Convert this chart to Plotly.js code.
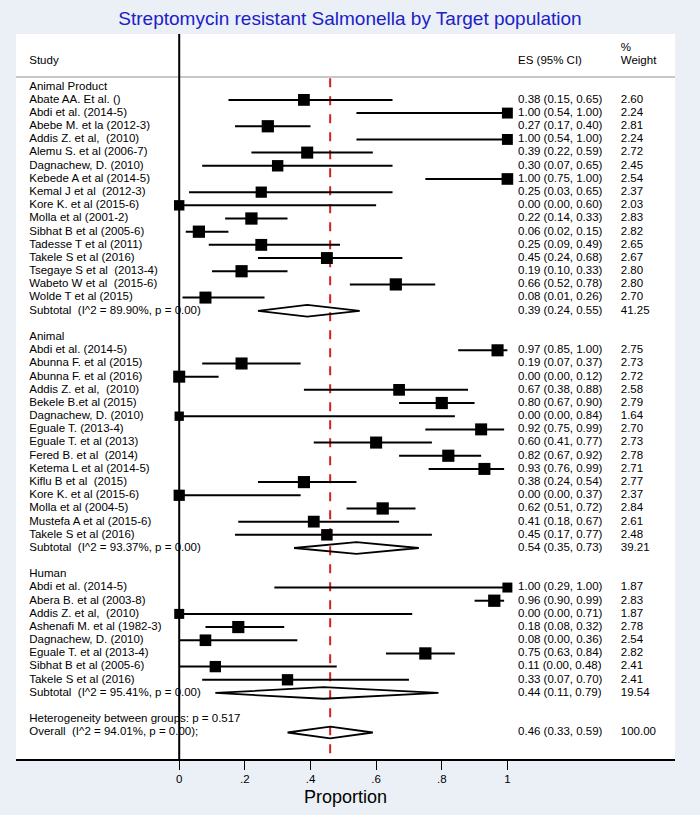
<!DOCTYPE html>
<html>
<head>
<meta charset="utf-8">
<script src="https://cdn.plot.ly/plotly-3.0.1.min.js"></script>
<style>
	html, body { margin: 0; padding: 0; background: #eaf0f5; }
	#forestPlot { width: 700px; height: 815px; }
</style>
</head>
<body>
<div id="forestPlot"></div>
<script>
const groupNames = [ 'Animal Product', 'Animal', 'Human' ];

const studyGroup = [
	0, 0, 0, 0, 0, 0, 0, 0, 0, 0, 0, 0, 0, 0, 0, 0,
	1, 1, 1, 1, 1, 1, 1, 1, 1, 1, 1, 1, 1, 1, 1,
	2, 2, 2, 2, 2, 2, 2, 2
];

const studyNames = [
	'Abate AA. Et al. ()', 'Abdi et al. (2014-5)', 'Abebe M. et la (2012-3)', 'Addis Z. et al,\u00a0 (2010)',
	'Alemu S. et al (2006-7)', 'Dagnachew, D. (2010)', 'Kebede A et al (2014-5)', 'Kemal J et al\u00a0 (2012-3)',
	'Kore K. et al (2015-6)', 'Molla et al (2001-2)', 'Sibhat B et al (2005-6)', 'Tadesse T et al (2011)',
	'Takele S et al (2016)', 'Tsegaye S et al\u00a0 (2013-4)', 'Wabeto W et al\u00a0 (2015-6)', 'Wolde T et al (2015)',
	'Abdi et al. (2014-5)', 'Abunna F. et al (2015)', 'Abunna F. et al (2016)', 'Addis Z. et al,\u00a0 (2010)',
	'Bekele B.et al (2015)', 'Dagnachew, D. (2010)', 'Eguale T. (2013-4)', 'Eguale T. et al (2013)',
	'Fered B. et al\u00a0 (2014)', 'Ketema L et al (2014-5)', 'Kiflu B et al\u00a0 (2015)', 'Kore K. et al (2015-6)',
	'Molla et al (2004-5)', 'Mustefa A et al (2015-6)', 'Takele S et al (2016)',
	'Abdi et al. (2014-5)', 'Abera B. et al (2003-8)', 'Addis Z. et al,\u00a0 (2010)', 'Ashenafi M. et al (1982-3)',
	'Dagnachew, D. (2010)', 'Eguale T. et al (2013-4)', 'Sibhat B et al (2005-6)', 'Takele S et al (2016)'
];

const studyEs = [
	0.38, 1.00, 0.27, 1.00, 0.39, 0.30, 1.00, 0.25, 0.00, 0.22, 0.06, 0.25, 0.45, 0.19, 0.66, 0.08,
	0.97, 0.19, 0.00, 0.67, 0.80, 0.00, 0.92, 0.60, 0.82, 0.93, 0.38, 0.00, 0.62, 0.41, 0.45,
	1.00, 0.96, 0.00, 0.18, 0.08, 0.75, 0.11, 0.33
];

const studyLo = [
	0.15, 0.54, 0.17, 0.54, 0.22, 0.07, 0.75, 0.03, 0.00, 0.14, 0.02, 0.09, 0.24, 0.10, 0.52, 0.01,
	0.85, 0.07, 0.00, 0.38, 0.67, 0.00, 0.75, 0.41, 0.67, 0.76, 0.24, 0.00, 0.51, 0.18, 0.17,
	0.29, 0.90, 0.00, 0.08, 0.00, 0.63, 0.00, 0.07
];

const studyHi = [
	0.65, 1.00, 0.40, 1.00, 0.59, 0.65, 1.00, 0.65, 0.60, 0.33, 0.15, 0.49, 0.68, 0.33, 0.78, 0.26,
	1.00, 0.37, 0.12, 0.88, 0.90, 0.84, 0.99, 0.77, 0.92, 0.99, 0.54, 0.37, 0.72, 0.67, 0.77,
	1.00, 0.99, 0.71, 0.32, 0.36, 0.84, 0.48, 0.70
];

const studyWeight = [
	2.60, 2.24, 2.81, 2.24, 2.72, 2.45, 2.54, 2.37, 2.03, 2.83, 2.82, 2.65, 2.67, 2.80, 2.80, 2.70,
	2.75, 2.73, 2.72, 2.58, 2.79, 1.64, 2.70, 2.73, 2.78, 2.71, 2.77, 2.37, 2.84, 2.61, 2.48,
	1.87, 2.83, 1.87, 2.78, 2.54, 2.82, 2.41, 2.41
];

const subI2 = [ '89.90%', '93.37%', '95.41%' ];
const subP = [ '0.00', '0.00', '0.00' ];
const subEs = [ 0.39, 0.54, 0.44 ];
const subLo = [ 0.24, 0.35, 0.11 ];
const subHi = [ 0.55, 0.73, 0.79 ];
const subWeight = [ 41.25, 39.21, 19.54 ];

const overallEs = 0.46;
const overallLo = 0.33;
const overallHi = 0.59;
const overallWeight = 100.00;
const overallI2 = '94.01%';
const overallP = '0.00';
const betweenGroupsP = '0.517';

const tickVals = [ 0, 0.2, 0.4, 0.6, 0.8, 1 ];
const tickText = [ '0', '.2', '.4', '.6', '.8', '1' ];

// column positions (data units on the x axis)
const labelX = -0.457;
const esX = 1.0325;
const weightX = 1.3455;
const halfDiamond = 0.44;

const fmt = v => v.toFixed( 2 );
const ciText = ( e, l, h ) => fmt( e ) + ' (' + fmt( l ) + ', ' + fmt( h ) + ')';

let labelY = [], labelText = [];
let esY = [], esText = [], weightText = [];
let ciX = [], ciY = [];
let boxX = [], boxY = [], boxSize = [];
let diaX = [], diaY = [];

function addDiamond( e, l, h, r ) {
	diaX.push( l, e, h, e, l, null );
	diaY.push( r, r - halfDiamond, r, r + halfDiamond, r, null );
}

let row = 0;

for ( let g = 0; g < groupNames.length; g++ ) {

	labelY.push( row );
	labelText.push( groupNames[ g ] );
	row++;

	for ( let i = 0; i < studyNames.length; i++ ) {

		if ( studyGroup[ i ] !== g ) continue;

		labelY.push( row );
		labelText.push( studyNames[ i ] );
		esY.push( row );
		esText.push( ciText( studyEs[ i ], studyLo[ i ], studyHi[ i ] ) );
		weightText.push( fmt( studyWeight[ i ] ) );
		ciX.push( studyLo[ i ], studyHi[ i ], null );
		ciY.push( row, row, null );
		boxX.push( studyEs[ i ] );
		boxY.push( row );
		boxSize.push( 7.3 * Math.sqrt( studyWeight[ i ] ) );
		row++;

	}

	labelY.push( row );
	labelText.push( 'Subtotal\u00a0 (I^2 = ' + subI2[ g ] + ', p = ' + subP[ g ] + ')' );
	esY.push( row );
	esText.push( ciText( subEs[ g ], subLo[ g ], subHi[ g ] ) );
	weightText.push( fmt( subWeight[ g ] ) );
	addDiamond( subEs[ g ], subLo[ g ], subHi[ g ], row );
	row += 2;

}

labelY.push( row );
labelText.push( 'Heterogeneity between groups: p = ' + betweenGroupsP );
row++;

labelY.push( row );
labelText.push( 'Overall\u00a0 (I^2 = ' + overallI2 + ', p = ' + overallP + ');' );
esY.push( row );
esText.push( ciText( overallEs, overallLo, overallHi ) );
weightText.push( fmt( overallWeight ) );
addDiamond( overallEs, overallLo, overallHi, row );

const headerRow = -1.97;
const pctRow = -2.96;
const sepRow = -0.74;

const font = 'Liberation Sans, Arial, sans-serif';
const textFont = { family: font, size: 11.5, color: '#000' };

const data = [
	{
		x: ciX, y: ciY, type: 'scatter', mode: 'lines',
		line: { color: '#000', width: 2 }, hoverinfo: 'skip', cliponaxis: false
	},
	{
		x: boxX, y: boxY, type: 'scatter', mode: 'markers',
		marker: { symbol: 'square', color: '#000', opacity: 1, size: boxSize, line: { width: 0 } },
		cliponaxis: false
	},
	{
		x: diaX, y: diaY, type: 'scatter', mode: 'lines',
		line: { color: '#000', width: 1.8 }, hoverinfo: 'skip', cliponaxis: false
	},
	{
		x: labelY.map( () => labelX ), y: labelY, text: labelText,
		type: 'scatter', mode: 'text', textposition: 'middle right',
		textfont: textFont, cliponaxis: false
	},
	{
		x: esY.map( () => esX ), y: esY, text: esText,
		type: 'scatter', mode: 'text', textposition: 'middle right',
		textfont: textFont, cliponaxis: false
	},
	{
		x: esY.map( () => weightX ), y: esY, text: weightText,
		type: 'scatter', mode: 'text', textposition: 'middle right',
		textfont: textFont, cliponaxis: false
	},
	{
		x: [ labelX, esX, weightX, weightX ], y: [ headerRow, headerRow, headerRow, pctRow ],
		text: [ 'Study', 'ES (95% CI)', 'Weight', '%' ],
		type: 'scatter', mode: 'text', textposition: 'middle right',
		textfont: textFont, cliponaxis: false
	}
];

const layout = {
	width: 700,
	height: 815,
	showlegend: false,
	paper_bgcolor: '#eaf0f5',
	plot_bgcolor: '#ffffff',
	margin: { l: 16, r: 25, t: 34, b: 56 },
	title: {
		text: 'Streptomycin resistant Salmonella by Target population',
		font: { family: font, size: 19, color: '#2020c8' },
		x: 0.5, xanchor: 'center', y: 1 - 18 / 815, yanchor: 'middle', yref: 'container'
	},
	xaxis: {
		range: [ -0.4973, 1.5107 ],
		tickvals: tickVals,
		ticktext: tickText,
		ticks: 'outside',
		ticklen: 9,
		tickwidth: 1.2,
		tickcolor: '#000',
		showline: true,
		linecolor: '#000',
		linewidth: 1.5,
		showgrid: false,
		zeroline: false,
		tickfont: { family: font, size: 11.5, color: '#000' },
		title: { text: 'Proportion', font: { family: font, size: 18, color: '#000' }, standoff: 6 },
		fixedrange: true
	},
	yaxis: {
		range: [ 51.01, -4.0 ],
		visible: false,
		showgrid: false,
		zeroline: false,
		fixedrange: true
	},
	shapes: [
		{
			type: 'line', xref: 'paper', yref: 'y', x0: 0, x1: 1, y0: sepRow, y1: sepRow,
			line: { color: '#c8c8c8', width: 2 }, layer: 'below'
		},
		{
			type: 'line', xref: 'x', yref: 'paper', x0: 0, x1: 0, y0: 0, y1: 1,
			line: { color: '#000', width: 2 }, layer: 'below'
		},
		{
			type: 'line', xref: 'x', yref: 'y', x0: overallEs, x1: overallEs, y0: sepRow + 0.1, y1: 51.01,
			line: { color: '#d42020', width: 2, dash: 'dash' }, layer: 'below'
		}
	]
};

Plotly.newPlot( 'forestPlot', data, layout, { staticPlot: true } );
</script>
</body>
</html>
